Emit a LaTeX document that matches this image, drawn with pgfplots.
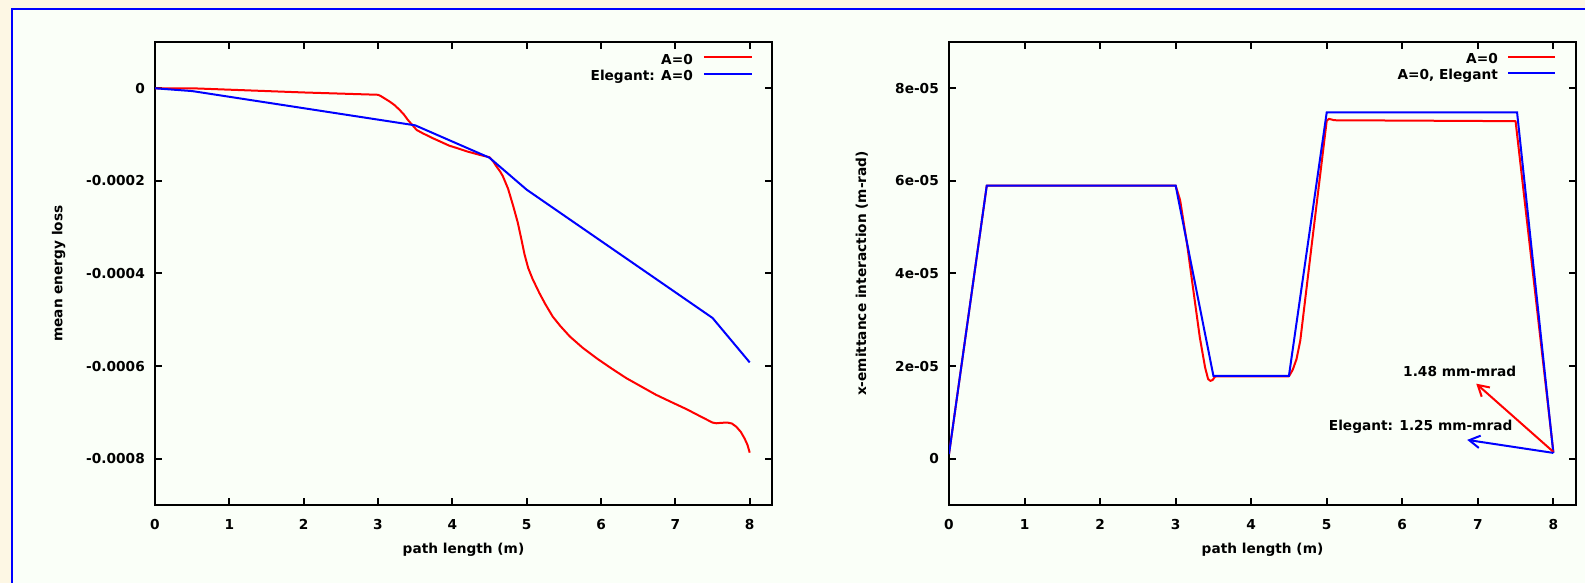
\documentclass[border=0pt]{standalone}
\usepackage{pgfplots}
\pgfplotsset{compat=1.18}
\usepackage{pgfplotstable}
\usepackage{fontspec}
\setmainfont{DejaVu Sans}
\usetikzlibrary{arrows.meta}
\definecolor{cream}{RGB}{253,247,228}
\definecolor{panel}{RGB}{250,255,248}
\definecolor{gred}{RGB}{255,0,0}
\definecolor{gblue}{RGB}{0,0,255}
\newcommand\gfont{\fontsize{13.7}{16}\selectfont\bfseries}

\pgfplotstableread{
x y
0 0
0.5 0
1 -0.000003
2 -0.000009
3 -0.000014
3.04 -0.000017
3.10 -0.000023
3.16 -0.000029
3.22 -0.000036
3.29 -0.0000465
3.35 -0.000057
3.40 -0.000068
3.46 -0.000079
3.52 -0.000090
3.60 -0.000097
3.74 -0.000108
3.85 -0.000116
3.96 -0.000124
4.08 -0.000130
4.19 -0.000136
4.35 -0.000143
4.50 -0.000149
4.55 -0.000158
4.59 -0.000168
4.64 -0.000179
4.68 -0.000190
4.75 -0.000217
4.82 -0.000255
4.88 -0.000290
4.93 -0.000327
4.97 -0.000358
5.02 -0.000388
5.08 -0.000412
5.17 -0.000442
5.25 -0.000466
5.35 -0.000493
5.45 -0.000513
5.58 -0.000536
5.75 -0.000560
5.94 -0.000583
6.14 -0.000605
6.34 -0.000626
6.54 -0.000644
6.74 -0.000662
6.95 -0.000678
7.15 -0.000693
7.33 -0.000708
7.50 -0.000722
7.55 -0.0007235
7.62 -0.0007225
7.70 -0.000722
7.76 -0.000724
7.82 -0.000731
7.88 -0.000742
7.93 -0.000756
7.97 -0.000770
8.00 -0.000787
}\lossred

\pgfplotstableread{
x y
0 0
0.5 -0.000006
3.5 -0.000080
4.5 -0.000150
5.0 -0.000219
7.5 -0.000496
8.0 -0.000592
}\lossblue

\pgfplotstableread{
x y
0 1e-6
0.5 5.9e-5
3.0 5.9e-5
3.06 5.58e-5
3.15 4.65e-5
3.24 3.57e-5
3.32 2.62e-5
3.39 1.97e-5
3.43 1.72e-5
3.46 1.68e-5
3.49 1.70e-5
3.52 1.77e-5
3.55 1.78e-5
4.5 1.78e-5
4.55 1.92e-5
4.60 2.15e-5
4.65 2.55e-5
4.8 4.6e-5
5.0 7.3e-5
5.03 7.34e-5
5.1 7.31e-5
7.5 7.29e-5
8.0 1.48e-6
}\emitred

\pgfplotstableread{
x y
0 1e-6
0.5 5.9e-5
3.0 5.9e-5
3.5 1.79e-5
4.5 1.79e-5
5.0 7.48e-5
7.52 7.48e-5
8.0 1.25e-6
}\emitblue

\pgfplotsset{
 gp/.style={
  scale only axis, height=463pt,
  xmin=0, xmax=8.3, enlargelimits=false,
  axis line style={line width=2.4pt},
  tick style={line width=2pt, black},
  major tick length=7pt, tick align=inside,
  xtick={0,1,2,3,4,5,6,7,8}, xticklabels={0,1,2,3,4,5,6,7,8},
  scaled ticks=false,
  tick label style={font=\gfont},
  xticklabel style={inner sep=0pt, yshift=-14pt},
  yticklabel style={inner sep=0pt, xshift=-10pt},
  label style={font=\gfont},
  xlabel style={at={(axis description cs:0.5,0)}, anchor=center, yshift=-45pt},
 },
}
\tikzset{legtext/.style={font=\gfont, anchor=base east, inner sep=0pt}}

\begin{document}
\begin{tikzpicture}[x=1pt,y=1pt]
\useasboundingbox (0,0) rectangle (1585,583);
\fill[cream] (0,0) rectangle (1585,583);
\begin{scope}
\clip (0,0) rectangle (1585,583);
\filldraw[fill=panel, draw=gblue, line width=1.6pt] (11.7,-10) rectangle (1600,573.7);
\end{scope}

\begin{axis}[gp, width=617pt, at={(155pt,78pt)}, anchor=south west,
  ymin=-0.0009, ymax=0.0001,
  ytick={-0.0008,-0.0006,-0.0004,-0.0002,0},
  yticklabels={-0.0008,-0.0006,-0.0004,-0.0002,0},
  xlabel={path length (m)}, ylabel={mean energy loss},
  ylabel style={at={(axis description cs:-0.156,0.5)}, anchor=center}]
\addplot[gred, line width=2pt, line join=round] table {\lossred};
\addplot[gblue, line width=2pt] table {\lossblue};
% legend
\node[legtext] at ([xshift=-79pt,yshift=-22.5pt]rel axis cs:1,1) {A=0};
\draw[gred, line width=2pt] ([xshift=-68pt,yshift=-15.5pt]rel axis cs:1,1) -- ([xshift=-20pt,yshift=-15.5pt]rel axis cs:1,1);
\node[legtext] at ([xshift=-79pt,yshift=-38.5pt]rel axis cs:1,1) {Elegant: A=0};
\draw[gblue, line width=2pt] ([xshift=-68pt,yshift=-31.8pt]rel axis cs:1,1) -- ([xshift=-20pt,yshift=-31.8pt]rel axis cs:1,1);
\end{axis}

\begin{axis}[gp, width=627pt, at={(949pt,78pt)}, anchor=south west,
  ymin=-1e-5, ymax=9e-5,
  ytick={0,2e-5,4e-5,6e-5,8e-5},
  yticklabels={0,2e-05,4e-05,6e-05,8e-05},
  xlabel={path length (m)}, ylabel={x-emittance interaction (m-rad)},
  ylabel style={at={(axis description cs:-0.139,0.5)}, anchor=center}]
\addplot[gred, line width=2pt, line join=round] table {\emitred};
\addplot[gblue, line width=2pt] table {\emitblue};
\draw[gred, line width=2pt, -{Straight Barb[length=10.7pt, width=12.4pt]}] (axis cs:8.0,1.48e-6) -- (axis cs:6.98,1.62e-5);
\draw[gblue, line width=2pt, -{Straight Barb[length=10.7pt, width=12.4pt]}] (axis cs:8.0,1.25e-6) -- (axis cs:6.86,4.06e-6);
\node[font=\gfont, anchor=east, inner sep=0pt] at (axis cs:7.51,1.88e-5) {1.48 mm-mrad};
\node[font=\gfont, anchor=east, inner sep=0pt] at (axis cs:7.46,0.69e-5) {Elegant: 1.25 mm-mrad};
% legend
\node[legtext] at ([xshift=-78pt,yshift=-22pt]rel axis cs:1,1) {A=0};
\draw[gred, line width=2pt] ([xshift=-68pt,yshift=-15pt]rel axis cs:1,1) -- ([xshift=-21pt,yshift=-15pt]rel axis cs:1,1);
\node[legtext] at ([xshift=-78pt,yshift=-38pt]rel axis cs:1,1) {A=0, Elegant};
\draw[gblue, line width=2pt] ([xshift=-68pt,yshift=-31.5pt]rel axis cs:1,1) -- ([xshift=-21pt,yshift=-31.5pt]rel axis cs:1,1);
\end{axis}
\end{tikzpicture}
\end{document}
